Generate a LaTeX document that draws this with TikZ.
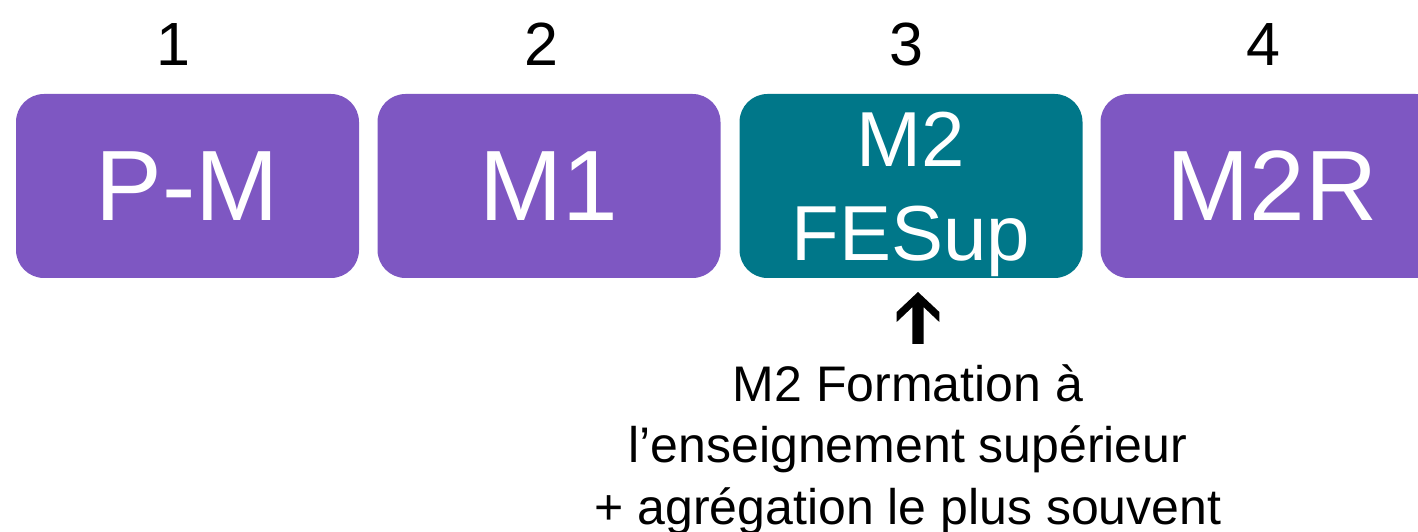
\documentclass[tikz,border=0pt]{standalone}
\usepackage{fontspec}
\setmainfont{Liberation Sans}
\definecolor{stagepurple}{HTML}{7E57C2}
\definecolor{stageteal}{HTML}{007789}
\tikzset{
  stagebox/.style={fill=#1, draw=none, rounded corners=28pt, minimum width=343pt,
    minimum height=184pt, inner sep=0pt, text=white, align=center},
  bigtext/.style={font=\fontsize{100}{120}\selectfont},
  midtext/.style={font=\fontsize{78}{93.6}\selectfont, text depth=0pt},
  yearnum/.style={font=\fontsize{61}{73}\selectfont, inner sep=0pt, anchor=base},
  notetext/.style={font=\fontsize{50}{61.5}\selectfont, inner sep=0pt, align=center, anchor=north},
  uparrow/.style={fill=black, draw=none}
}
\begin{document}
\begin{tikzpicture}[x=1pt,y=1pt]
\useasboundingbox (0,0) rectangle (1418,532);
\clip (0,0) rectangle (1418,532);
\node[stagebox=stagepurple, bigtext] (b1) at (187.5,346) {P-M};
\node[stagebox=stagepurple, bigtext] (b2) at (549,346) {M1};
\node[stagebox=stageteal, midtext] (b3) at (911,346) {M2\\FESup};
\node[stagebox=stagepurple, bigtext] (b4) at (1272,346) {M2R};
\node[yearnum] (n1) at (173,466) {1};
\node[yearnum] (n2) at (541,466) {2};
\node[yearnum] (n3) at (906,466) {3};
\node[yearnum] (n4) at (1263,466) {4};
\node[notetext] (note) at (908,168) {M2 Formation à\\l’enseignement supérieur\\+ agrégation le plus souvent};
\coordinate (atip) at (918,240);
\fill[uparrow] (atip) -- ++(-21.3,-20) -- ++(0,-10) -- ++(15.6,14.8) -- ++(0,-36.8)
  -- ++(11.4,0) -- ++(0,36.8) -- ++(15.6,-14.8) -- ++(0,10) -- cycle;
\end{tikzpicture}
\end{document}
